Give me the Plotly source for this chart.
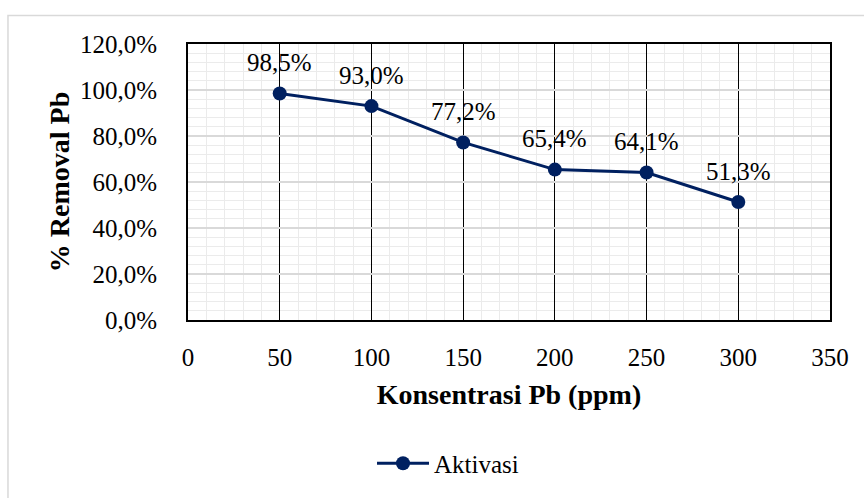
import plotly.graph_objects as go

konsentrasi = [50, 100, 150, 200, 250, 300]
removal = [0.985, 0.930, 0.772, 0.654, 0.641, 0.513]
labels = ["98,5%", "93,0%", "77,2%", "65,4%", "64,1%", "51,3%"]
series_name = "Aktivasi"

navy = "#002060"
FONT = "Liberation Serif"

fig = go.Figure()
fig.add_trace(go.Scatter(
    x=konsentrasi, y=removal, mode="lines+markers", name=series_name,
    line=dict(color=navy, width=3),
    marker=dict(color=navy, size=14),
))

for xv, yv, lab in zip(konsentrasi, removal, labels):
    fig.add_annotation(x=xv, y=yv, text=lab, showarrow=False, yshift=31,
                       xanchor="center", yanchor="middle",
                       font=dict(family=FONT, size=25, color="#000000"))

# outer chart border (light gray)
fig.add_shape(type="rect", xref="paper", yref="paper",
              x0=-0.2804, x1=1.07, y0=-0.65, y1=1.103,
              line=dict(color="#d9d9d9", width=1.5), fillcolor="rgba(0,0,0,0)",
              layer="below")

fig.update_layout(
    width=864, height=498,
    margin=dict(l=188, r=34, t=44, b=173),
    paper_bgcolor="white", plot_bgcolor="white",
    separators=",.",
    font=dict(family=FONT, size=25, color="#000000"),
    showlegend=True,
    legend=dict(orientation="h", x=0.405, xanchor="center", y=-0.52, yanchor="middle",
                font=dict(family=FONT, size=25, color="#000000"), itemwidth=52,
                bgcolor="rgba(0,0,0,0)"),
    xaxis=dict(
        range=[0, 350], dtick=50, tick0=0,
        showgrid=True, gridcolor="#000000", gridwidth=1,
        minor=dict(dtick=10, showgrid=True, gridcolor="#ebebeb", gridwidth=1.2),
        showline=True, linecolor="#000000", linewidth=2, mirror=True,
        zeroline=False, ticks="", ticklabelstandoff=14,
        tickfont=dict(family=FONT, size=25, color="#000000"),
        title=dict(text="<b>Konsentrasi Pb (ppm)</b>",
                   font=dict(family=FONT, size=28, color="#000000"), standoff=14),
    ),
    yaxis=dict(
        range=[0, 1.2], dtick=0.2, tick0=0, tickformat=".1%",
        showgrid=True, gridcolor="#d9d9d9", gridwidth=1.5,
        minor=dict(dtick=0.04, showgrid=True, gridcolor="#ebebeb", gridwidth=1.2),
        showline=True, linecolor="#000000", linewidth=2, mirror=True,
        zeroline=False, ticks="", ticklabelstandoff=24,
        tickfont=dict(family=FONT, size=25, color="#000000"),
        title=dict(text="<b>% Removal Pb</b>",
                   font=dict(family=FONT, size=28, color="#000000"), standoff=2),
    ),
)

fig.write_html("out.html")
